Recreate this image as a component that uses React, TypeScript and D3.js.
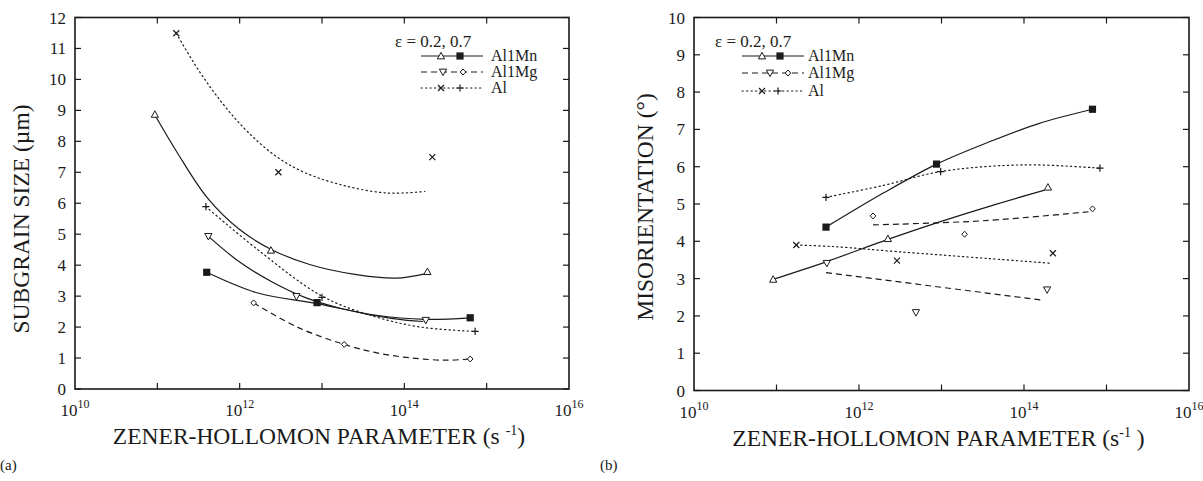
import React from 'react';
import * as d3 from 'd3';

// ---------- data (x given as log10 of Zener-Hollomon parameter) ----------
const xTickExps = [10, 12, 14, 16];
const xMinorExps = [11, 12, 13, 14, 15];
const sizeTicks = [0, 1, 2, 3, 4, 5, 6, 7, 8, 9, 10, 11, 12];
const misTicks = [0, 1, 2, 3, 4, 5, 6, 7, 8, 9, 10];

// (a) subgrain size, µm
const sizeMnLow: [number, number][] = [[10.97, 8.87], [12.38, 4.48], [14.28, 3.79]];
const sizeMnHigh: [number, number][] = [[11.6, 3.77], [12.94, 2.79], [14.8, 2.3]];
const sizeMgLow: [number, number][] = [[11.62, 4.93], [12.69, 2.99], [14.26, 2.22]];
const sizeMgHigh: [number, number][] = [[12.17, 2.78], [13.27, 1.44], [14.8, 0.97]];
const sizeAlLow: [number, number][] = [[11.23, 11.49], [12.47, 7.0], [14.34, 7.49]];
const sizeAlHigh: [number, number][] = [[11.59, 5.89], [13.0, 2.96], [14.86, 1.86]];

const sizeFitMnLow: [number, number][] = [[10.97, 8.85], [11.25, 7.6], [11.6, 6.2], [12.0, 5.15], [12.39, 4.5], [12.85, 4.02], [13.4, 3.7], [13.9, 3.58], [14.25, 3.72]];
const sizeFitMnHigh: [number, number][] = [[11.6, 3.77], [12.22, 3.1], [12.94, 2.76], [13.64, 2.39], [14.25, 2.25], [14.8, 2.3]];
const sizeFitMgLow: [number, number][] = [[11.62, 4.93], [12.0, 4.1], [12.4, 3.45], [12.8, 2.95], [13.23, 2.6], [13.84, 2.28], [14.23, 2.18]];
const sizeFitMgHigh: [number, number][] = [[12.17, 2.78], [12.7, 2.0], [13.27, 1.44], [13.7, 1.15], [14.1, 1.0], [14.5, 0.93], [14.8, 0.97]];
const sizeFitAlLow: [number, number][] = [[11.23, 11.49], [11.5, 10.3], [11.8, 9.2], [12.1, 8.3], [12.45, 7.5], [12.8, 6.98], [13.3, 6.55], [13.8, 6.33], [14.25, 6.38]];
const sizeFitAlHigh: [number, number][] = [[11.59, 5.89], [12.22, 4.5], [13.0, 3.0], [13.64, 2.34], [14.2, 2.0], [14.86, 1.86]];

// (b) misorientation, degrees
const misMnLow: [number, number][] = [[10.96, 2.98], [12.35, 4.07], [14.29, 5.45]];
const misMnHigh: [number, number][] = [[11.6, 4.38], [12.94, 6.07], [14.83, 7.54]];
const misMgLow: [number, number][] = [[11.61, 3.41], [12.69, 2.09], [14.28, 2.7]];
const misMgHigh: [number, number][] = [[12.17, 4.68], [13.28, 4.19], [14.83, 4.87]];
const misAlLow: [number, number][] = [[11.24, 3.9], [12.46, 3.48], [14.35, 3.68]];
const misAlHigh: [number, number][] = [[11.6, 5.18], [12.99, 5.87], [14.92, 5.96]];

const misFitMnLow: [number, number][] = [[10.96, 2.98], [11.6, 3.45], [12.35, 4.05], [12.95, 4.5], [13.6, 4.95], [14.25, 5.37]];
const misFitMnHigh: [number, number][] = [[11.6, 4.38], [12.3, 5.3], [12.94, 6.07], [13.56, 6.65], [14.17, 7.15], [14.83, 7.54]];
const misFitMgLow: [number, number][] = [[11.6, 3.16], [14.2, 2.43]];
const misFitMgHigh: [number, number][] = [[12.17, 4.44], [13.5, 4.55], [14.82, 4.8]];
const misFitAlLow: [number, number][] = [[11.24, 3.9], [11.68, 3.86], [12.48, 3.72], [13.56, 3.54], [14.33, 3.41]];
const misFitAlHigh: [number, number][] = [[11.6, 5.18], [12.3, 5.5], [12.99, 5.87], [14.0, 6.05], [14.92, 5.96]];

const legendLabels = ['Al1Mn', 'Al1Mg', 'Al'];
const epsLabel = 'ε = 0.2, 0.7';

// ---------- drawing helpers ----------
const INK = '#1a1a1a';
const FONT = '"Liberation Serif", "Times New Roman", serif';
const DASH = '6,4';
const DOT = '1.3,3.2';

type Mk = 'tri' | 'sq' | 'itri' | 'dia' | 'x' | 'plus';

function Marker({ kind, x, y }: { kind: Mk; x: number; y: number }) {
  const s = 3.6;
  switch (kind) {
    case 'tri':
      return <path d={`M${x},${y - s}L${x + s},${y + s * 0.8}L${x - s},${y + s * 0.8}Z`} fill="white" stroke={INK} strokeWidth={1} />;
    case 'itri':
      return <path d={`M${x},${y + s}L${x + s},${y - s * 0.8}L${x - s},${y - s * 0.8}Z`} fill="white" stroke={INK} strokeWidth={1} />;
    case 'sq':
      return <rect x={x - 3.6} y={y - 3.6} width={7.2} height={7.2} fill={INK} />;
    case 'dia':
      return <path d={`M${x},${y - 3}L${x + 2.8},${y}L${x},${y + 3}L${x - 2.8},${y}Z`} fill="white" stroke={INK} strokeWidth={1} />;
    case 'x':
      return <path d={`M${x - 3},${y - 3}L${x + 3},${y + 3}M${x - 3},${y + 3}L${x + 3},${y - 3}`} stroke={INK} strokeWidth={1.2} />;
    case 'plus':
      return <path d={`M${x - 3.6},${y}L${x + 3.6},${y}M${x},${y - 3.6}L${x},${y + 3.6}`} stroke={INK} strokeWidth={1.2} />;
  }
}

interface Series {
  pts: [number, number][];
  fit: [number, number][];
  mk: Mk;
  dash?: string;
}

interface PanelProps {
  x0: number; x1: number; top: number; bottom: number;
  yMax: number; yTicks: number[];
  yTitle: string; yTitlePos: [number, number];
  series: Series[];
  legendX: number; epsX: number; legendRows: number[]; epsY: number; legendSym: number[][]; textX: number;
  xTitle: React.ReactNode;
  tag: string; tagX: number;
}

function Panel(p: PanelProps) {
  const x = d3.scaleLog().domain([1e10, 1e16]).range([p.x0, p.x1]);
  const y = d3.scaleLinear().domain([0, p.yMax]).range([p.bottom, p.top]);
  const X = (e: number) => x(Math.pow(10, e));
  const line = d3.line<[number, number]>().x(d => X(d[0])).y(d => y(d[1])).curve(d3.curveCatmullRom.alpha(0.5));
  const tl = 6;
  const legendStyles = [undefined, DASH, DOT];
  const legendMk: Mk[][] = [['tri', 'sq'], ['itri', 'dia'], ['x', 'plus']];
  return (
    <g fontFamily={FONT} fill={INK}>
      {/* frame */}
      <rect x={p.x0} y={p.top} width={p.x1 - p.x0} height={p.bottom - p.top} fill="none" stroke={INK} strokeWidth={1.6} />
      {p.yTicks.map(t => (
        <g key={'y' + t}>
          <line x1={p.x0} x2={p.x0 + tl} y1={y(t)} y2={y(t)} stroke={INK} strokeWidth={1.2} />
          <line x1={p.x1} x2={p.x1 - tl} y1={y(t)} y2={y(t)} stroke={INK} strokeWidth={1.2} />
          <text x={p.x0 - 9} y={y(t) + 6} textAnchor="end" fontSize={17}>{t}</text>
        </g>
      ))}
      {xMinorExps.map(e => (
        <g key={'x' + e}>
          <line x1={X(e)} x2={X(e)} y1={p.bottom} y2={p.bottom - tl} stroke={INK} strokeWidth={1.2} />
          <line x1={X(e)} x2={X(e)} y1={p.top} y2={p.top + tl} stroke={INK} strokeWidth={1.2} />
        </g>
      ))}
      {xTickExps.map(e => (
        <text key={'xl' + e} x={X(e)} y={p.bottom + 27} textAnchor="middle" fontSize={17}>
          10<tspan fontSize={12} dy={-8}>{e}</tspan>
        </text>
      ))}
      <text x={(p.x0 + p.x1) / 2 - 3} y={p.bottom + 55} textAnchor="middle" fontSize={23.5}>{p.xTitle}</text>
      <text transform={`translate(${p.yTitlePos[0]},${p.yTitlePos[1]}) rotate(-90)`} textAnchor="middle" fontSize={23.5}>{p.yTitle}</text>
      <text x={p.tagX} y={470} fontSize={15}>{p.tag}</text>

      {/* fits */}
      {p.series.map((s, i) => (
        <path key={'f' + i} d={line(s.fit) || ''} fill="none" stroke={INK} strokeWidth={1.2} strokeDasharray={s.dash} strokeLinecap={s.dash === DOT ? 'round' : 'butt'} />
      ))}
      {/* markers */}
      {p.series.map((s, i) => s.pts.map((d, j) => <Marker key={'m' + i + '_' + j} kind={s.mk} x={X(d[0])} y={y(d[1])} />))}

      {/* legend */}
      <text x={p.epsX} y={p.epsY} fontSize={17}>{epsLabel}</text>
      {legendLabels.map((lab, i) => (
        <g key={'lg' + i}>
          <line x1={p.legendX} x2={p.legendX + 62} y1={p.legendRows[i]} y2={p.legendRows[i]} stroke={INK} strokeWidth={1.2}
            strokeDasharray={legendStyles[i]} strokeLinecap={i === 2 ? 'round' : 'butt'} />
          <Marker kind={legendMk[i][0]} x={p.legendX + p.legendSym[i][0]} y={p.legendRows[i]} />
          <Marker kind={legendMk[i][1]} x={p.legendX + p.legendSym[i][1]} y={p.legendRows[i]} />
          <text x={p.textX} y={p.legendRows[i] + 5} fontSize={16}>{lab}</text>
        </g>
      ))}
    </g>
  );
}

export default function App() {
  const sizeSeries: Series[] = [
    { pts: sizeMnLow, fit: sizeFitMnLow, mk: 'tri' },
    { pts: sizeMnHigh, fit: sizeFitMnHigh, mk: 'sq' },
    { pts: sizeMgLow, fit: sizeFitMgLow, mk: 'itri' },
    { pts: sizeMgHigh, fit: sizeFitMgHigh, mk: 'dia', dash: DASH },
    { pts: sizeAlLow, fit: sizeFitAlLow, mk: 'x', dash: DOT },
    { pts: sizeAlHigh, fit: sizeFitAlHigh, mk: 'plus', dash: DOT },
  ];
  const misSeries: Series[] = [
    { pts: misMnLow, fit: misFitMnLow, mk: 'tri' },
    { pts: misMnHigh, fit: misFitMnHigh, mk: 'sq' },
    { pts: misMgLow, fit: misFitMgLow, mk: 'itri', dash: DASH },
    { pts: misMgHigh, fit: misFitMgHigh, mk: 'dia', dash: DASH },
    { pts: misAlLow, fit: misFitAlLow, mk: 'x', dash: DOT },
    { pts: misAlHigh, fit: misFitAlHigh, mk: 'plus', dash: DOT },
  ];
  return (
    <svg width={1203} height={481} style={{ position: 'absolute', left: 0, top: 0, background: 'white' }}>
      <rect width={1203} height={481} fill="white" />
      <Panel x0={75} x1={569} top={17.5} bottom={389} yMax={12} yTicks={sizeTicks}
        yTitle="SUBGRAIN SIZE (µm)" yTitlePos={[29, 219]} series={sizeSeries}
        legendX={421} epsX={395} epsY={47} legendRows={[56, 72, 88]} legendSym={[[20, 39], [22, 42], [20, 39]]} textX={491}
        xTitle={<>ZENER-HOLLOMON PARAMETER (s <tspan fontSize={14} dy={-9}>-1</tspan><tspan dy={9}>)</tspan></>}
        tag="(a)" tagX={0} />
      <Panel x0={694} x1={1189} top={17.5} bottom={390.5} yMax={10} yTicks={misTicks}
        yTitle="MISORIENTATION (°)" yTitlePos={[653, 207]} series={misSeries}
        legendX={742} epsX={715} epsY={47} legendRows={[56, 73, 91]} legendSym={[[20, 38], [28, 46], [20, 36]]} textX={808}
        xTitle={<>ZENER-HOLLOMON PARAMETER (s<tspan fontSize={14} dy={-9}>-1</tspan><tspan dy={9}> )</tspan></>}
        tag="(b)" tagX={600} />
    </svg>
  );
}
